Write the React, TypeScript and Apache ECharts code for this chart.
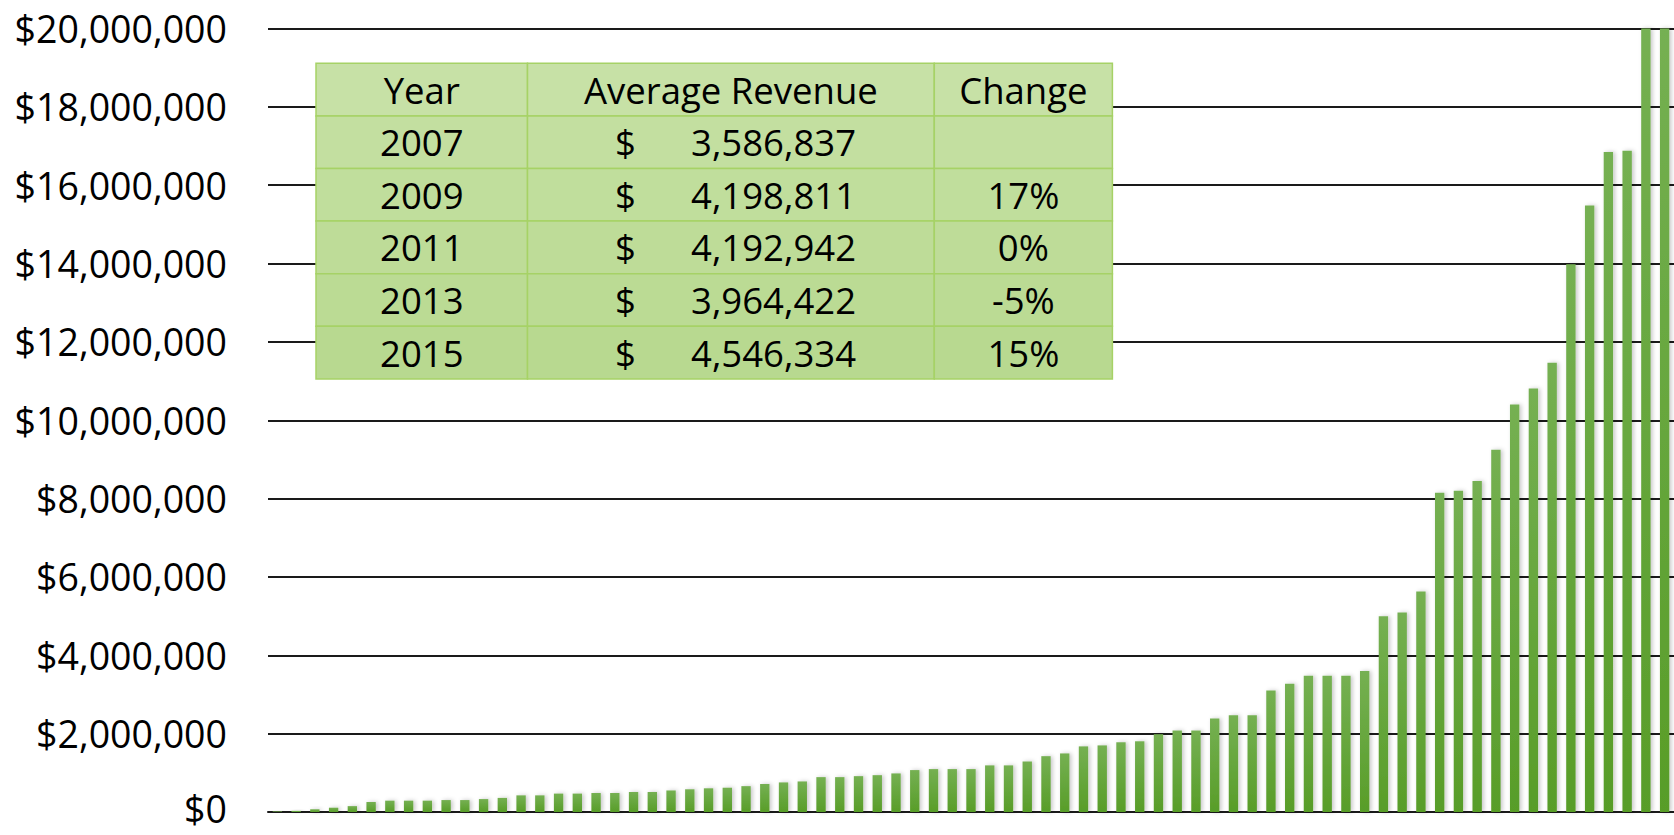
import React, { useEffect, useRef } from "react";
import * as echarts from "echarts";

// ---- data ----
const revenueValues: number[] = [
  15000, 30000, 70000, 110000, 150000, 255000, 290000, 290000, 290000, 305000,
  305000, 330000, 360000, 425000, 425000, 470000, 470000, 485000, 485000, 510000,
  510000, 550000, 580000, 605000, 620000, 660000, 715000, 755000, 780000, 890000,
  890000, 915000, 940000, 985000, 1070000, 1095000, 1095000, 1095000, 1190000, 1190000,
  1290000, 1425000, 1495000, 1675000, 1700000, 1780000, 1805000, 1985000, 2080000, 2080000,
  2385000, 2470000, 2470000, 3100000, 3275000, 3480000, 3480000, 3480000, 3600000, 5000000,
  5090000, 5630000, 8150000, 8200000, 8450000, 9250000, 10400000, 10810000, 11470000, 13980000,
  15480000, 16850000, 16880000, 22000000, 24000000,
];
const categories: string[] = revenueValues.map((_, i) => String(i + 1));

const yMin = 0;
const yMax = 20000000;
const yInterval = 2000000;

const tableHeaders: string[] = ["Year", "Average Revenue", "Change"];
const tableYears: string[] = ["2007", "2009", "2011", "2013", "2015"];
const tableRevenue: string[] = ["3,586,837", "4,198,811", "4,192,942", "3,964,422", "4,546,334"];
const tableChange: string[] = ["", "17%", "0%", "-5%", "15%"];

// ---- layout / style ----
const FONT = "'Open Sans', 'Noto Sans', sans-serif";
const colX = [316, 527.5, 934.3, 1112.4];
const tableTop = 63.3;
const rowH = 52.6;
const rowFills = ["#c7e1a6", "#c3dfa0", "#c0de9c", "#bedc98", "#bbdb94", "#b8d990"];
const borderColor = "#a6d266";
const LABEL_SIZE = 37.5;

function buildTable(): any[] {
  const els: any[] = [];
  const nRows = tableYears.length + 1;
  for (let r = 0; r < nRows; r++) {
    for (let c = 0; c < 3; c++) {
      els.push({
        type: "rect",
        shape: { x: colX[c], y: tableTop + r * rowH, width: colX[c + 1] - colX[c], height: rowH },
        style: { fill: rowFills[r], stroke: borderColor, lineWidth: 1.5 },
        z: 10,
      });
    }
  }
  const textStyle = (extra: any) => ({
    fill: "#000",
    fontSize: 36.5,
    fontFamily: FONT,
    verticalAlign: "middle",
    ...extra,
  });
  tableHeaders.forEach((h, c) => {
    els.push({
      type: "text",
      x: (colX[c] + colX[c + 1]) / 2,
      y: tableTop + rowH / 2,
      style: textStyle({ text: h, align: "center" }),
      z: 11,
    });
  });
  tableYears.forEach((yr, i) => {
    const cy = tableTop + (i + 1) * rowH + rowH / 2;
    els.push({
      type: "text",
      x: (colX[0] + colX[1]) / 2,
      y: cy,
      style: textStyle({ text: yr, align: "center" }),
      z: 11,
    });
    els.push({
      type: "text",
      x: 615,
      y: cy,
      style: textStyle({ text: "$", align: "left" }),
      z: 11,
    });
    els.push({
      type: "text",
      x: 856,
      y: cy,
      style: textStyle({ text: tableRevenue[i], align: "right" }),
      z: 11,
    });
    if (tableChange[i]) {
      els.push({
        type: "text",
        x: (colX[2] + colX[3]) / 2,
        y: cy,
        style: textStyle({ text: tableChange[i], align: "center" }),
        z: 11,
      });
    }
  });
  return els;
}

export default function App() {
  const ref = useRef<HTMLDivElement>(null);
  useEffect(() => {
    document.body.style.margin = "0";
    const chart = echarts.init(ref.current!, null, { renderer: "svg" });
    chart.setOption({
      animation: false,
      backgroundColor: "#ffffff",
      grid: { left: 268, right: 0, top: 28.5, bottom: 23, containLabel: false },
      xAxis: {
        type: "category",
        data: categories,
        axisLine: { show: true, lineStyle: { color: "#1a1a1a", width: 2 } },
        axisTick: { show: false },
        axisLabel: { show: false },
      },
      yAxis: {
        type: "value",
        min: yMin,
        max: yMax,
        interval: yInterval,
        axisLine: { show: false },
        axisTick: { show: false },
        splitLine: { lineStyle: { color: "#1a1a1a", width: 2 } },
        axisLabel: {
          margin: 41,
          color: "#000",
          fontSize: LABEL_SIZE,
          lineHeight: 36,
          fontFamily: FONT,
          formatter: (v: number) =>
            v === 0 ? "{z|$0}" : "$" + v.toLocaleString("en-US"),
          rich: {
            z: {
              fontSize: LABEL_SIZE,
              lineHeight: 34,
              fontFamily: FONT,
              color: "#000",
              padding: [0, 0, 8, 0],
            },
          },
        },
      },
      series: [
        {
          type: "bar",
          data: revenueValues,
          barCategoryGap: "50%",
          clip: true,
          itemStyle: {
            color: new echarts.graphic.LinearGradient(0, 0, 0, 1, [
              { offset: 0, color: "#75b052" },
              { offset: 1, color: "#589d28" },
            ]),
            shadowColor: "rgba(0,0,0,0.22)",
            shadowBlur: 4,
            shadowOffsetX: 2,
          },
        },
      ],
      graphic: buildTable(),
    });
    return () => chart.dispose();
  }, []);
  return <div ref={ref} style={{ width: 1674, height: 835 }} />;
}
